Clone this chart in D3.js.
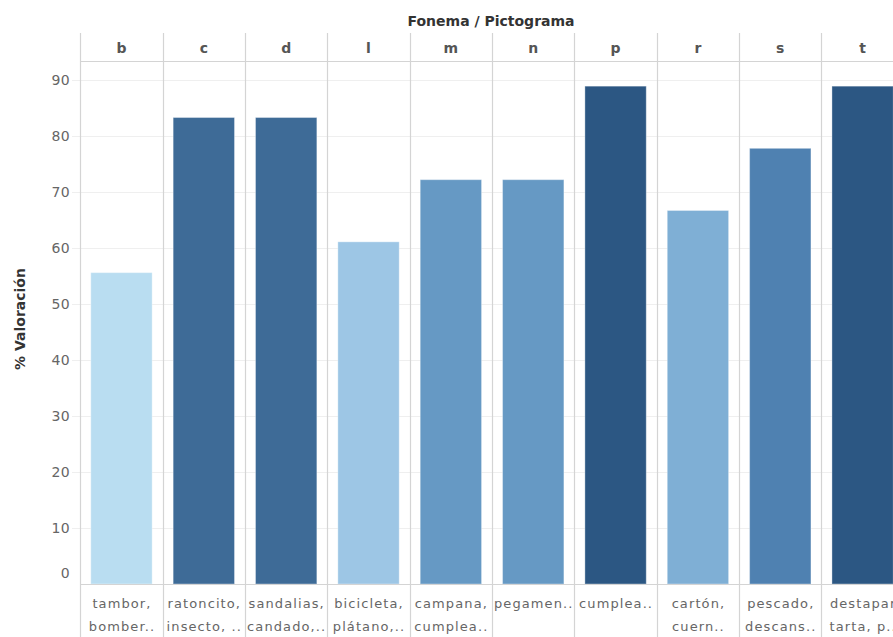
<!DOCTYPE html>
<html>
<head>
<meta charset="utf-8">
<script src="https://cdn.jsdelivr.net/npm/d3@7"></script>
<style>
  html, body { margin: 0; padding: 0; background: #fff; overflow: hidden; }
  svg { display: block; }
  text { font-family: "DejaVu Sans", "Open Sans", sans-serif; }
</style>
</head>
<body>
<svg id="chart" width="893" height="637"></svg>
<script>
// ---- data ----
const fonemas = ["b", "c", "d", "l", "m", "n", "p", "r", "s", "t"];
const pictogramLine1 = ["tambor,", "ratoncito,", "sandalias,", "bicicleta,", "campana,", "pegamen..", "cumplea..", "cartón,", "pescado,", "destapar"];
const pictogramLine2 = ["bomber..", "insecto, ..", "candado,..", "plátano,..", "cumplea..", "", "", "cuern..", "descans..", "tarta, p.."];
const valoracion = [55.6, 83.3, 83.3, 61.1, 72.2, 72.2, 88.9, 66.7, 77.8, 88.9];
const yTicks = [0, 10, 20, 30, 40, 50, 60, 70, 80, 90];

// colour ramp (Tableau-like sequential blue) keyed by value
const rampValues = [55.6, 61.1, 66.7, 72.2, 77.8, 83.3, 88.9];
const rampColors = ["#b9ddf1", "#9dc6e5", "#7fafd5", "#6699c4", "#4f81b1", "#3e6b97", "#2c5783"];

// ---- layout ----
const svg = d3.select("#chart");
const W = 893, H = 637;
const left = 80.3, colW = 82.35;
const headerTop = 33, headerBottom = 61, plotBottom = 584;

const x = d3.scaleBand().domain(fonemas)
  .range([left, left + colW * fonemas.length])
  .paddingInner(0).paddingOuter(0);
const y = d3.scaleLinear().domain([0, 90]).range([plotBottom, 80]);
const color = d3.scaleLinear().domain(rampValues).range(rampColors);

const data = fonemas.map((f, i) => ({ f, v: valoracion[i], l1: pictogramLine1[i], l2: pictogramLine2[i] }));

// grid lines
svg.append("g").selectAll("line").data(yTicks.filter(t => t > 0)).join("line")
  .attr("x1", 72).attr("x2", W)
  .attr("y1", d => Math.round(y(d)) + 0.5).attr("y2", d => Math.round(y(d)) + 0.5)
  .attr("stroke", "#efefef").attr("stroke-width", 1);

// y tick labels
svg.append("g").selectAll("text").data(yTicks).join("text")
  .attr("x", 70)
  .attr("y", d => d === 0 ? y(d) - 11 : y(d))
  .attr("dy", "0.36em")
  .attr("text-anchor", "end")
  .attr("fill", "#666")
  .attr("font-size", 14)
  .attr("letter-spacing", "0.3px")
  .text(d => d);

// y axis title
svg.append("text")
  .attr("transform", `translate(25,319) rotate(-90)`)
  .attr("text-anchor", "middle")
  .attr("font-size", 14)
  .attr("font-weight", "bold")
  .attr("fill", "#333")
  .text("% Valoración");

// top title
svg.append("text")
  .attr("x", 491).attr("y", 26)
  .attr("text-anchor", "middle")
  .attr("font-size", 14)
  .attr("font-weight", "bold")
  .attr("fill", "#333")
  .text("Fonema / Pictograma");

// bars
const pad = 10.5;
svg.append("g").selectAll("rect").data(data).join("rect")
  .attr("x", d => x(d.f) + pad)
  .attr("width", x.bandwidth() - 2 * pad)
  .attr("y", d => y(d.v))
  .attr("height", d => y(0) - y(d.v))
  .attr("fill", d => color(d.v))
  .attr("stroke", "rgba(255,255,255,0.35)")
  .attr("stroke-width", 1);

// column dividers
const divs = d3.range(fonemas.length + 1).map(i => left + colW * i);
svg.append("g").selectAll("line").data(divs).join("line")
  .attr("x1", d => Math.round(d) + 0.5).attr("x2", d => Math.round(d) + 0.5)
  .attr("y1", headerTop).attr("y2", H)
  .attr("stroke", "#d4d4d4").attr("stroke-width", 1.2);

// header bottom line & axis baseline
svg.append("line").attr("x1", left).attr("x2", W)
  .attr("y1", headerBottom + 0.5).attr("y2", headerBottom + 0.5)
  .attr("stroke", "#d4d4d4").attr("stroke-width", 1.2);
svg.append("line").attr("x1", left).attr("x2", W)
  .attr("y1", plotBottom + 0.5).attr("y2", plotBottom + 0.5)
  .attr("stroke", "#d4d4d4").attr("stroke-width", 1.2);

// column headers
svg.append("g").selectAll("text").data(data).join("text")
  .attr("x", d => x(d.f) + x.bandwidth() / 2)
  .attr("y", 48).attr("dy", "0.36em")
  .attr("text-anchor", "middle")
  .attr("font-size", 14)
  .attr("font-weight", "bold")
  .attr("fill", "#555")
  .text(d => d.f);

// x labels
const xl = svg.append("g").selectAll("g").data(data).join("g");
[["l1", 603], ["l2", 626]].forEach(([key, yy]) => {
  xl.append("text")
    .attr("x", d => x(d.f) + x.bandwidth() / 2 + 0.5)
    .attr("y", yy).attr("dy", "0.36em")
    .attr("text-anchor", "middle")
    .attr("font-size", 13)
    .attr("letter-spacing", "1.1px")
    .attr("fill", "#666")
    .text(d => d[key]);
});
</script>
</body>
</html>
